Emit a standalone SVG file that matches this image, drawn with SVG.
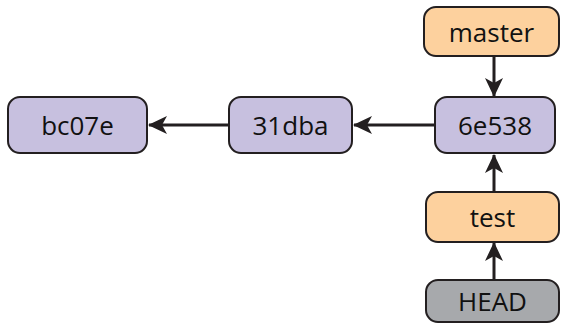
<svg xmlns="http://www.w3.org/2000/svg" width="561" height="324" viewBox="0 0 561 324">
<style>
.box{stroke:#231f20;stroke-width:2}
.c{fill:#c7c0df}
.b{fill:#fdd19e}
.h{fill:#a7a9ac}
.t{font-family:"Open Sans","Liberation Sans",sans-serif;font-size:26px;fill:#111;text-anchor:middle;dominant-baseline:central}
.e{stroke:#231f20;stroke-width:3;fill:none}
</style>
<defs>
<marker id="a" viewBox="0 0 20 20" refX="18" refY="10" markerWidth="20" markerHeight="20" markerUnits="userSpaceOnUse" orient="auto">
<path d="M0,1 L19,10 L0,19 L5,10 Z" fill="#231f20"/>
</marker>
</defs>
<g id="connectors">
<line class="e" x1="229" y1="125" x2="149" y2="125" marker-end="url(#a)"/>
<line class="e" x1="435" y1="125" x2="354" y2="125" marker-end="url(#a)"/>
<line class="e" x1="494" y1="57" x2="494" y2="96" marker-end="url(#a)"/>
<line class="e" x1="494" y1="192" x2="494" y2="155" marker-end="url(#a)"/>
<line class="e" x1="494" y1="280" x2="494" y2="243" marker-end="url(#a)"/>
</g>
<g id="bc07e"><rect class="box c" x="8" y="97" width="139" height="56" rx="12"/><text class="t" x="77.5" y="125">bc07e</text></g>
<g id="31dba"><rect class="box c" x="229" y="97" width="123" height="56" rx="12"/><text class="t" x="290.5" y="125">31dba</text></g>
<g id="6e538"><rect class="box c" x="435" y="97" width="120" height="56" rx="12"/><text class="t" x="495" y="125">6e538</text></g>
<g id="master"><rect class="box b" x="424" y="7" width="135" height="49" rx="12"/><text class="t" x="491.5" y="31.5">master</text></g>
<g id="test"><rect class="box b" x="426" y="192" width="133" height="50" rx="12"/><text class="t" x="492.5" y="217">test</text></g>
<g id="HEAD"><rect class="box h" x="426" y="280" width="133" height="42" rx="12"/><text class="t" x="492.5" y="301">HEAD</text></g>
</svg>
